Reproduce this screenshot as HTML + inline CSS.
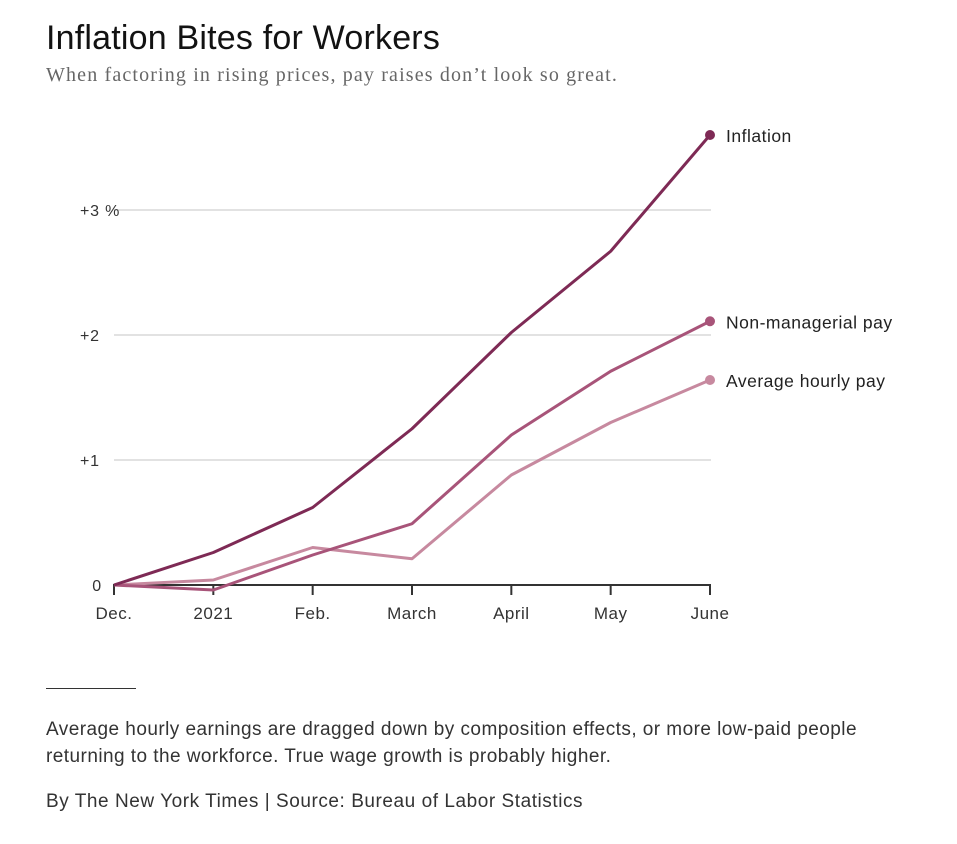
<!DOCTYPE html>
<html><head><meta charset="utf-8"><style>
body{margin:0;background:#fff;width:957px;height:844px;position:relative;overflow:hidden;font-family:"Liberation Sans",sans-serif;color:#333}
.t{position:absolute;white-space:nowrap}
</style></head><body>
<div class="t" style="left:46px;top:19px;font-size:34px;color:#121212;letter-spacing:0.2px">Inflation Bites for Workers</div>
<div class="t" style="left:46px;top:64px;font-size:20px;color:#666;font-family:'Liberation Serif',serif;letter-spacing:1.15px">When factoring in rising prices, pay raises don’t look so great.</div>
<svg id="c" class="t" style="left:0;top:0" width="957" height="660"></svg>
<div class="t" style="left:46px;top:688px;width:90px;border-top:1px solid #333"></div>
<div class="t" style="left:46px;top:716px;font-size:19px;line-height:27px;color:#333;letter-spacing:0.45px">Average hourly earnings are dragged down by composition effects, or more low-paid people<br>returning to the workforce. True wage growth is probably higher.</div>
<div class="t" style="left:46px;top:791px;font-size:19px;color:#333;letter-spacing:0.55px">By The New York Times | Source: Bureau of Labor Statistics</div>
<script>
const months=["Dec.","2021","Feb.","March","April","May","June"];
const inflation=[0,0.26,0.62,1.25,2.02,2.67,3.6];
const nonManagerial=[0,-0.04,0.24,0.49,1.2,1.71,2.11];
const averageHourly=[0,0.04,0.3,0.21,0.88,1.3,1.64];
const yTicks=[0,1,2,3];
const yLabels=["0","+1","+2","+3 %"];
const NS="http://www.w3.org/2000/svg";
const svg=document.getElementById("c");
const x=i=>114+i*(710-114)/(months.length-1);
const y=v=>585-v*125;
function mk(t,a){const e=document.createElementNS(NS,t);for(const k in a)e.setAttribute(k,a[k]);svg.appendChild(e);return e;}
yTicks.forEach((v,i)=>{
 if(v!==0){const g=mk("line",{x1:114,x2:711,y1:y(v),y2:y(v),stroke:"#e2e2e2","stroke-width":2});
 
 }
 const t=mk("text",{x:v===0?102:80,y:y(v)+6,"font-size":16,"letter-spacing":"0.8",fill:"#333","font-family":"Liberation Sans, sans-serif","text-anchor":v===0?"end":"start"});
 t.textContent=yLabels[i];
 
 
});
const ax=mk("line",{x1:113,x2:711,y1:585,y2:585,stroke:"#333","stroke-width":2});


months.forEach((m,i)=>{
 const tk=mk("line",{x1:x(i),x2:x(i),y1:585,y2:595,stroke:"#333","stroke-width":2});
 
 
 const t=mk("text",{x:x(i),y:619,"font-size":17,"letter-spacing":"0.5",fill:"#333","text-anchor":"middle","font-family":"Liberation Sans, sans-serif"});
 t.textContent=m;
 
 
});
const series=[[averageHourly,"#c7899f","Average hourly pay"],[nonManagerial,"#a85479","Non-managerial pay"],[inflation,"#7e2a55","Inflation"]];
series.forEach(([d,c,n])=>{
 const p=mk("polyline",{points:d.map((v,i)=>x(i)+","+y(v)).join(" "),fill:"none",stroke:c,"stroke-width":3,"stroke-linejoin":"round"});
 
 
 const last=d.length-1;
 const dot=mk("circle",{cx:x(last),cy:y(d[last]),r:5,fill:c});
 
 
 const t=mk("text",{x:x(last)+16,y:y(d[last])+7,"font-size":17.5,"letter-spacing":"0.5",fill:"#222","font-family":"Liberation Sans, sans-serif"});
 t.textContent=n;
 
 
});
</script>
</body></html>
